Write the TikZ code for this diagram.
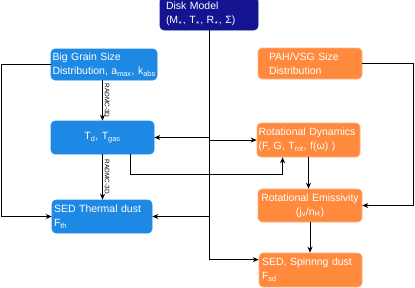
\documentclass[tikz,border=0pt]{standalone}
\usepackage{fontspec}
\setmainfont{Liberation Sans}
\usepackage{tikz}
\usetikzlibrary{arrows.meta, calc}
\definecolor{diskblue}{RGB}{20,20,145}
\definecolor{grainblue}{RGB}{30,136,229}
\definecolor{pahorange}{RGB}{255,138,61}
\definecolor{pahedge}{RGB}{255,178,125}
\tikzset{
  box/.style={rectangle, rounded corners=4pt, text=white, align=left,
    inner ysep=0pt, font=\fontsize{10.5}{14}\selectfont, line width=0.6pt},
  bluebox/.style={box, fill=grainblue, draw=grainblue},
  orangebox/.style={box, fill=pahorange, draw=pahedge},
  diskbox/.style={box, fill=diskblue, draw=diskblue},
  arrow/.style={-{Stealth[length=6pt,width=5pt]}, line width=0.8pt, color=black},
  tool/.style={font=\fontsize{6.5}{7}\selectfont, rotate=-90, anchor=south, inner sep=2pt}
}
\begin{document}
\begin{tikzpicture}[x=1pt, y=-1pt]
  \useasboundingbox (0,0) rectangle (415,287);

  % Nodes
  \node[diskbox, text width=86pt, inner xsep=6pt, minimum height=33pt] (disk) at (209,13.5) {Disk Model\\(M$_\star$, T$_\star$, R$_\star$, Σ)};
  \node[bluebox, text width=103pt, inner xsep=1.5pt, minimum height=31pt] (grain) at (104,64.5) {Big Grain Size\\\mbox{Distribution, a\textsubscript{max}, k\textsubscript{abs}}};
  \node[bluebox, text width=99pt, inner xsep=2pt, minimum height=33pt, align=center] (temp) at (102.5,137.5) {T\textsubscript{d}, T\textsubscript{gas}};
  \node[bluebox, text width=96pt, inner xsep=2pt, minimum height=33pt] (sedth) at (102,216.5) {SED Thermal dust\\F\textsubscript{th}};

  \node[orangebox, text width=82pt, inner xsep=11pt, minimum height=31pt] (pah) at (310,63.5) {PAH/VSG Size\\Distribution};
  \node[orangebox, text width=100pt, inner xsep=1.5pt, minimum height=34pt] (rotdyn) at (308.5,140) {Rotational Dynamics\\(F, G, T\textsubscript{rot}, f(ω) )};
  \node[orangebox, text width=100pt, inner xsep=2pt, minimum height=33pt, align=center] (rotemis) at (310,205.5) {Rotational Emissivity\\(j\textsubscript{ν}/n\textsubscript{H})};
  \node[orangebox, text width=97pt, inner xsep=3pt, minimum height=34pt] (sedsp) at (310.5,270) {SED, Spinnng dust\\F\textsubscript{sd}};

  \coordinate (spinin) at ($(sedsp.north west)!0.2!(sedsp.south west)$);
  \coordinate (tdout) at ($(temp.south west)!0.77!(temp.south east)$);
  \coordinate (rdin) at ($(rotdyn.south west)!0.25!(rotdyn.south east)$);

  % Connections
  \draw[arrow] (disk.south) |- (spinin);
  \draw[arrow] (disk.south) |- (temp.east);
  \draw[arrow] (disk.south) |- (rotdyn.west);
  \draw[arrow] (disk.south) |- (sedth.east);

  \draw[arrow] (grain.south -| temp.north) -- (temp.north) node[tool, midway] {RADMC-3D};
  \draw[arrow] (temp.south) -- (temp.south |- sedth.north) node[tool, midway] {RADMC-3D};
  \draw[arrow] (grain.west) -- ++(-49,0) |- (sedth.west);
  \draw[arrow] (tdout) -- ++(0,20) -| (rdin);

  \draw[arrow] (pah.east) -- ++(51,0) |- (rotemis.east);
  \draw[arrow] (rotdyn.south) -- (rotdyn.south |- rotemis.north);
  \draw[arrow] (rotemis.south) -- (rotemis.south |- sedsp.north);

\end{tikzpicture}
\end{document}
